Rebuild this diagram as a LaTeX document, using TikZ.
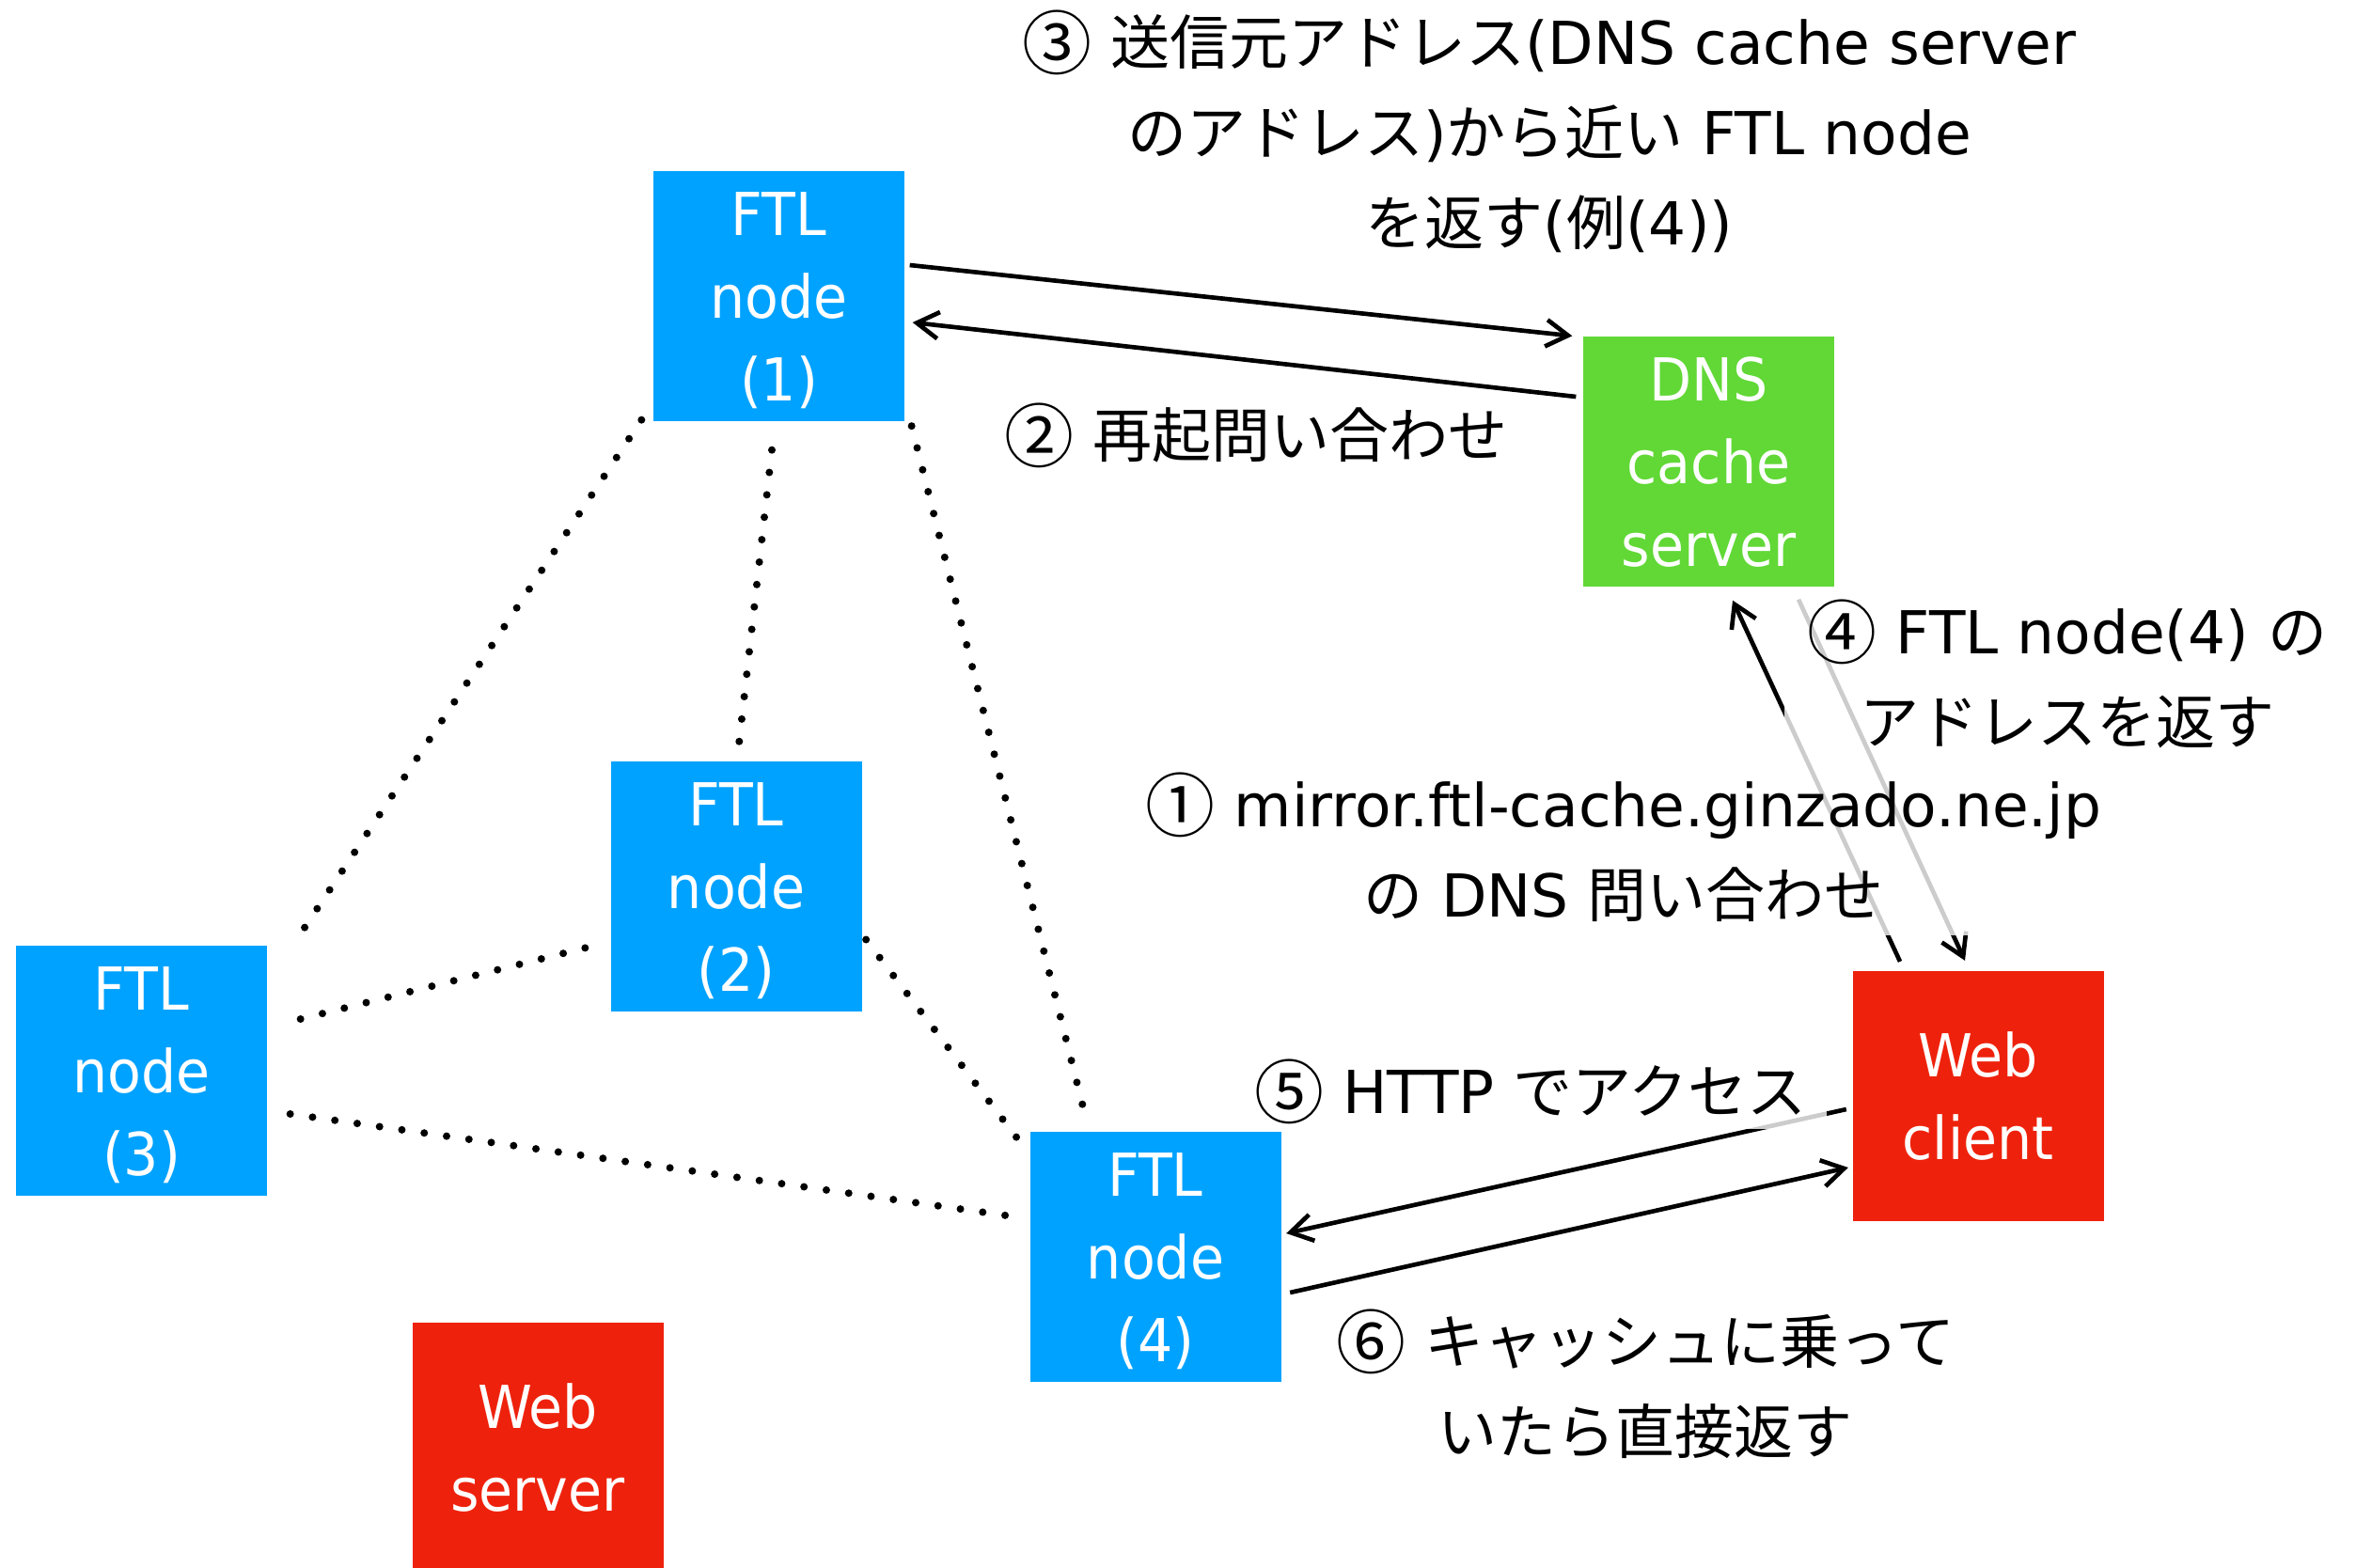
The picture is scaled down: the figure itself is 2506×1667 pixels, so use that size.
\documentclass[tikz,border=0pt]{standalone}
\usepackage{fontspec}
\setmainfont{DejaVu Sans}
\newfontfamily\jp{Noto Sans CJK JP}
\newfontfamily\boxfont{DejaVu Sans}[FakeStretch=0.93]
\usetikzlibrary{arrows.meta}
\definecolor{kblue}{RGB}{0,162,255}
\definecolor{kgreen}{RGB}{97,216,54}
\definecolor{kred}{RGB}{238,34,12}
\newcommand\mystrut{\rule[-0.12em]{0pt}{1em}}
\newcommand\J[1]{{\jp #1}}
\newcommand\C[1]{\smash{\raisebox{-1.4pt}{\fontsize{22.2pt}{22.2pt}\jp #1}}}
\begin{document}
\begin{tikzpicture}[x=0.3pt,y=-0.3pt,
  box/.style={draw=none, minimum width=80.1pt, minimum height=79.8pt, inner sep=0pt,
    text=white, align=center, font=\boxfont\fontsize{18.9pt}{26.4pt}\selectfont},
  ftl/.style={box, fill=kblue},
  dnsbox/.style={box, fill=kgreen},
  webbox/.style={box, fill=kred},
  lbl/.style={fill=white, fill opacity=0.8, text opacity=1, inner sep=0pt,
    align=center, font=\fontsize{18.9pt}{28.8pt}\selectfont},
  arr/.style={line width=1.4pt, -{Straight Barb[length=7pt,width=8.5pt]}},
  dots/.style={line width=2.4pt, line cap=round, dash pattern=on 0pt off 7.2pt},
]
\clip (0,0) rectangle (2506,1667);
\fill[white] (0,0) rectangle (2506,1667);

% boxes
\node[ftl] (f1) at (828.5,315) {\mystrut FTL\\\mystrut node\\\mystrut (1)};
\node[ftl] (f2) at (783,943) {\mystrut FTL\\\mystrut node\\\mystrut (2)};
\node[ftl] (f3) at (150.5,1139) {\mystrut FTL\\\mystrut node\\\mystrut (3)};
\node[ftl] (f4) at (1229,1336.5) {\mystrut FTL\\\mystrut node\\\mystrut (4)};
\node[dnsbox] (dns) at (1817.5,491) {\mystrut DNS\\\mystrut cache\\\mystrut server};
\node[webbox] (wc) at (2104,1165.5) {\mystrut Web\\\mystrut client};
\node[webbox] (ws) at (572,1539.5) {\mystrut Web\\\mystrut server};

% dotted links
\draw[dots] ([shift={(-12,-2)}]f1.south west) -- ([shift={(27,0)}]f3.north east);
\draw[dots] ([shift={(-7.5,30)}]f1.south) -- ([shift={(3,-18)}]f2.north);
\draw[dots] ([shift={(7,4.5)}]f1.south east) -- ([shift={(56.5,-28)}]f4.north west);
\draw[dots] ([shift={(35,-55)}]f3.east) -- ([shift={(-25,65)}]f2.west);
\draw[dots] ([shift={(4,56.5)}]f2.east) -- ([shift={(-13.5,-126.5)}]f4.west);
\draw[dots] ([shift={(24,46)}]f3.east) -- ([shift={(-24.5,-43.5)}]f4.west);

% arrows
\draw[arr] ([shift={(5,-33)}]f1.east) -- ([shift={(-11,0)}]dns.north west);
\draw[arr] ([shift={(-7,-69)}]dns.west) -- ([shift={(8,28)}]f1.east);
\draw[arr] ([shift={(-83,-9)}]wc.north) -- ([shift={(25.5,14)}]dns.south);
\draw[arr] ([shift={(95.5,13)}]dns.south) -- ([shift={(-14,-10)}]wc.north);
\draw[arr] ([shift={(-6,14.5)}]wc.west) -- ([shift={(5,-24.5)}]f4.east);
\draw[arr] ([shift={(9,38.5)}]f4.east) -- ([shift={(-4,76.5)}]wc.west);

% labels
\node[lbl, minimum width=348pt, minimum height=81pt] (l3) at (1648,141)
  {\mystrut\C{③} \J{送信元アドレス}(DNS cache server\\
   \mystrut\J{のアドレス})\J{から近い} FTL node\\
   \mystrut\J{を返す}(\J{例}(4))};
\node[lbl, minimum width=168pt, minimum height=24.6pt] (l2) at (1336,463)
  {\mystrut\C{②} \J{再起問い合わせ}};
\node[lbl, minimum width=180.6pt, minimum height=55.8pt] (l4) at (2199,720)
  {\mystrut\C{④} FTL node(4) \J{の}\\\mystrut\J{アドレスを返す}};
\node[lbl, minimum width=316.2pt, minimum height=54.6pt] (l1) at (1727,904)
  {\mystrut\C{①} mirror.ftl-cache.ginzado.ne.jp\\\mystrut\J{の} DNS \J{問い合わせ}};
\node[lbl, minimum width=189pt, minimum height=24pt] (l5) at (1628,1161)
  {\mystrut\C{⑤} HTTP \J{でアクセス}};
\node[lbl, minimum width=210pt, minimum height=54pt] (l6) at (1750,1475)
  {\mystrut\C{⑥} \J{キャッシュに乗って}\\\mystrut\J{いたら直接返す}};
\end{tikzpicture}
\end{document}
